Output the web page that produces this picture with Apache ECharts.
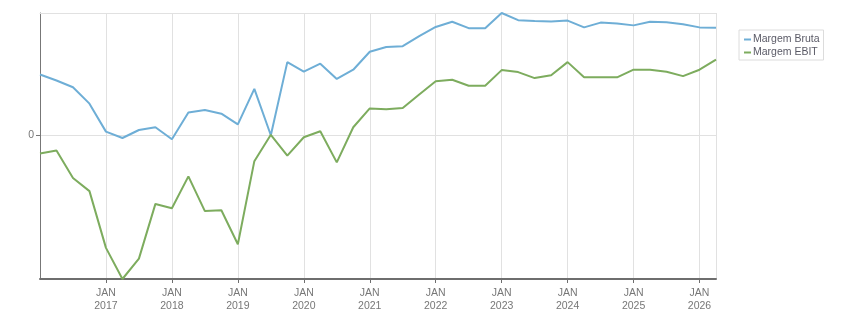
<!DOCTYPE html>
<html>
<head>
<meta charset="utf-8">
<script src="https://cdn.jsdelivr.net/npm/echarts@6/dist/echarts.min.js"></script>
<style>
  html, body { margin: 0; padding: 0; background: #fff; }
  #chart { width: 851px; height: 313px; }
</style>
</head>
<body>
<div id="chart"></div>
<script>
// trimestres (eixo x)
var quarters = [
  '2016-01', '2016-04', '2016-07', '2016-10',
  '2017-01', '2017-04', '2017-07', '2017-10',
  '2018-01', '2018-04', '2018-07', '2018-10',
  '2019-01', '2019-04', '2019-07', '2019-10',
  '2020-01', '2020-04', '2020-07', '2020-10',
  '2021-01', '2021-04', '2021-07', '2021-10',
  '2022-01', '2022-04', '2022-07', '2022-10',
  '2023-01', '2023-04', '2023-07', '2023-10',
  '2024-01', '2024-04', '2024-07', '2024-10',
  '2025-01', '2025-04', '2025-07', '2025-10',
  '2026-01', '2026-04'
];

var margemBruta = [
  15.1, 13.6, 11.9, 7.8, 0.8, -0.8, 1.2, 1.9,
  -1.1, 5.6, 6.2, 5.3, 2.6, 11.5, -0.1, 18.2,
  15.8, 17.8, 14.0, 16.3, 20.8, 22.0, 22.2, 24.7,
  27.0, 28.3, 26.7, 26.7, 30.5, 28.7, 28.5, 28.4,
  28.6, 26.9, 28.1, 27.9, 27.4, 28.3, 28.2, 27.7,
  26.9, 26.8
];

var margemEbit = [
  -4.7, -3.9, -10.8, -14.1, -28.3, -36.1, -31.0, -17.3,
  -18.4, -10.4, -19.1, -18.9, -27.4, -6.6, 0.0, -5.2,
  -0.6, 0.9, -6.9, 1.9, 6.6, 6.4, 6.7, 10.1,
  13.4, 13.8, 12.3, 12.3, 16.2, 15.7, 14.2, 14.9,
  18.2, 14.4, 14.4, 14.4, 16.3, 16.3, 15.8, 14.7,
  16.3, 18.8
];

var yLabels = [0];
var yMin = -36.1, yMax = 30.5;

var font = "'Liberation Sans', Arial, sans-serif";
var lastIdx = quarters.length - 1;

function isJan(index, value) {
  return index > 0 && value.slice(5) === '01';
}

var myChart = echarts.init(document.getElementById('chart'));

var option = {
  animation: false,
  grid: { left: 40, top: 13, right: 135, bottom: 33, containLabel: false },
  legend: {
    orient: 'vertical',
    left: 739,
    top: 30,
    data: ['Margem Bruta', 'Margem EBIT'],
    icon: 'rect',
    itemWidth: 7,
    itemHeight: 2,
    itemGap: 0,
    padding: [3, 4, 1, 5],
    borderColor: '#dcdcdc',
    borderWidth: 1,
    textStyle: { fontFamily: font, fontSize: 10.5, color: '#5a5a66', lineHeight: 13, padding: [0, 0, 0, -3] }
  },
  xAxis: [
    {
      type: 'category',
      data: quarters,
      boundaryGap: false,
      axisLine: { onZero: false, lineStyle: { color: '#6e6e6e', width: 2 } },
      axisTick: { interval: isJan, length: 4, lineStyle: { color: '#6e6e6e' } },
      axisLabel: {
        interval: isJan,
        margin: 7,
        fontFamily: font,
        fontSize: 10.5,
        lineHeight: 13.5,
        color: '#777',
        formatter: function (v) { return 'JAN\n' + v.slice(0, 4); }
      },
      splitLine: {
        show: true,
        interval: function (index, value) { return isJan(index, value) || index === lastIdx; },
        lineStyle: { color: '#e1e1e1', width: 1 }
      }
    },
    {
      // linha de borda superior
      type: 'category',
      data: quarters,
      position: 'top',
      boundaryGap: false,
      axisLine: { onZero: false, lineStyle: { color: '#e1e1e1', width: 1 } },
      axisTick: { show: false },
      axisLabel: { show: false },
      splitLine: { show: false }
    }
  ],
  yAxis: {
    type: 'value',
    min: yMin,
    max: yMax,
    interval: -yMin,
    axisLine: { show: true, lineStyle: { color: '#777', width: 1 } },
    axisTick: { show: true, length: 4, customValues: yLabels, lineStyle: { color: '#777' } },
    axisLabel: {
      customValues: yLabels,
      margin: 6,
      fontFamily: font,
      fontSize: 10.5,
      color: '#777'
    },
    splitLine: { show: true, lineStyle: { color: '#e1e1e1', width: 1 } }
  },
  series: [
    {
      name: 'Margem Bruta',
      type: 'line',
      data: margemBruta,
      symbol: 'none',
      lineStyle: { color: '#6eaed6', width: 2 },
      itemStyle: { color: '#6eaed6' }
    },
    {
      name: 'Margem EBIT',
      type: 'line',
      data: margemEbit,
      symbol: 'none',
      lineStyle: { color: '#7dac5e', width: 2 },
      itemStyle: { color: '#7dac5e' }
    }
  ]
};

myChart.setOption(option);
</script>
</body>
</html>
